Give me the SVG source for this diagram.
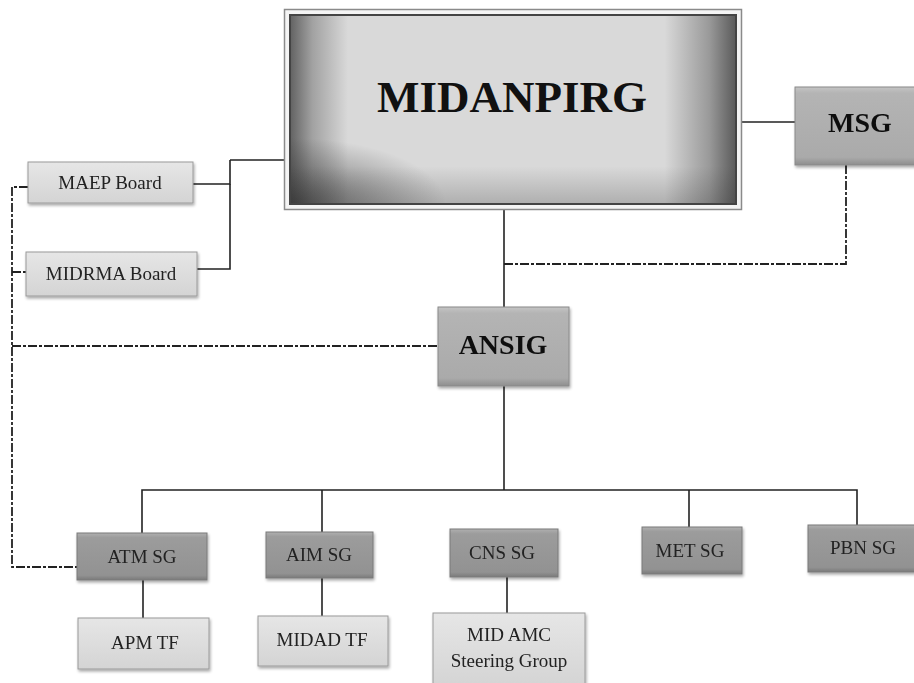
<svg xmlns="http://www.w3.org/2000/svg" width="914" height="683" viewBox="0 0 914 683">
<defs>
<linearGradient id="gSide" x1="0" y1="0" x2="1" y2="0">
<stop offset="0" stop-color="#3a3a3a" stop-opacity="0.75"/>
<stop offset="0.05" stop-color="#3a3a3a" stop-opacity="0.35"/>
<stop offset="0.13" stop-color="#3a3a3a" stop-opacity="0"/>
<stop offset="0.84" stop-color="#3a3a3a" stop-opacity="0"/>
<stop offset="0.94" stop-color="#3a3a3a" stop-opacity="0.4"/>
<stop offset="1" stop-color="#3a3a3a" stop-opacity="0.8"/>
</linearGradient>
<radialGradient id="gCorner" cx="0" cy="1" r="0.35">
<stop offset="0" stop-color="#303030" stop-opacity="0.7"/>
<stop offset="1" stop-color="#303030" stop-opacity="0"/>
</radialGradient>
<linearGradient id="gBot" x1="0" y1="0" x2="0" y2="1">
<stop offset="0.8" stop-color="#303030" stop-opacity="0"/>
<stop offset="1" stop-color="#303030" stop-opacity="0.25"/>
</linearGradient>
<linearGradient id="gMid" x1="0" y1="0" x2="0" y2="1">
<stop offset="0" stop-color="#c4c4c4"/>
<stop offset="0.08" stop-color="#b4b4b4"/>
<stop offset="0.9" stop-color="#aaaaaa"/>
<stop offset="1" stop-color="#8e8e8e"/>
</linearGradient>
<linearGradient id="gDark" x1="0" y1="0" x2="0" y2="1">
<stop offset="0" stop-color="#b0b0b0"/>
<stop offset="0.1" stop-color="#9c9c9c"/>
<stop offset="0.9" stop-color="#929292"/>
<stop offset="1" stop-color="#7a7a7a"/>
</linearGradient>
<linearGradient id="gLight" x1="0" y1="0" x2="0" y2="1">
<stop offset="0" stop-color="#e6e6e6"/>
<stop offset="1" stop-color="#d4d4d4"/>
</linearGradient>
<filter id="sh" x="-10%" y="-10%" width="130%" height="140%">
<feGaussianBlur in="SourceAlpha" stdDeviation="1.5"/>
<feOffset dx="1" dy="2" result="b"/>
<feComponentTransfer><feFuncA type="linear" slope="0.35"/></feComponentTransfer>
<feMerge><feMergeNode/><feMergeNode in="SourceGraphic"/></feMerge>
</filter>
</defs>
<style>
.ln{fill:none;stroke:#222;stroke-width:1.6}
.ds{fill:none;stroke:#222;stroke-width:1.8;stroke-dasharray:9 2 3 2}
.mid{fill:url(#gMid);stroke:#8a8a8a;stroke-width:1}
.dark{fill:url(#gDark);stroke:#7a7a7a;stroke-width:1}
.light{fill:url(#gLight);stroke:#9a9a9a;stroke-width:1}
.tb{font-family:"Liberation Serif","Times New Roman",serif;font-weight:bold;fill:#111;text-anchor:middle}
.t{font-family:"Liberation Serif","Times New Roman",serif;fill:#222;text-anchor:middle;font-size:19px}
</style>
<rect width="914" height="683" fill="#ffffff"/>
<g id="connectors">
<path class="ln" d="M742 122 H795"/>
<path class="ln" d="M504 210 V308"/>
<path class="ln" d="M230 160 H284"/>
<path class="ln" d="M193 184 H230 V160"/>
<path class="ln" d="M197 269 H230 V184"/>
<path class="ds" d="M846 165 V264 H504"/>
<path class="ds" d="M28 187 H12 V567 H77"/>
<path class="ds" d="M12 272 H26"/>
<path class="ds" d="M12 346 H438"/>
<path class="ln" d="M504 386 V490"/>
<path class="ln" d="M142 533 V490 H857 V525"/>
<path class="ln" d="M322 490 V532"/>
<path class="ln" d="M689 490 V527"/>
<path class="ln" d="M143 580 V618"/>
<path class="ln" d="M322 578 V616"/>
<path class="ln" d="M507 577 V613"/>
</g>
<g id="midanpirg">
<rect x="284.5" y="9.5" width="457" height="200" fill="#f4f4f4" stroke="#8a8a8a" stroke-width="1.5"/>
<rect x="290" y="15" width="446" height="189" fill="#d9d9d9"/>
<rect x="290" y="15" width="446" height="189" fill="url(#gSide)"/>
<rect x="290" y="15" width="446" height="189" fill="url(#gCorner)"/>
<rect x="290" y="15" width="446" height="189" fill="url(#gBot)"/>
<rect x="290" y="15" width="446" height="189" fill="none" stroke="#444" stroke-width="2"/>
<text class="tb" x="512" y="112" font-size="45">MIDANPIRG</text>
</g>
<g id="msg" filter="url(#sh)">
<rect class="mid" x="795" y="87" width="125" height="78"/>
<text class="tb" x="860" y="132" font-size="28">MSG</text>
</g>
<g id="maep" filter="url(#sh)">
<rect class="light" x="28" y="162" width="165" height="41"/>
<text class="t" x="110" y="189">MAEP Board</text>
</g>
<g id="midrma" filter="url(#sh)">
<rect class="light" x="26" y="252" width="171" height="44"/>
<text class="t" x="111" y="280">MIDRMA Board</text>
</g>
<g id="ansig" filter="url(#sh)">
<rect class="mid" x="438" y="307" width="131" height="79"/>
<text class="tb" x="503" y="354" font-size="28">ANSIG</text>
</g>
<g id="atmsg" filter="url(#sh)">
<rect class="dark" x="77" y="533" width="130" height="47"/>
<text class="t" x="142" y="563">ATM SG</text>
</g>
<g id="aimsg" filter="url(#sh)">
<rect class="dark" x="266" y="532" width="107" height="46"/>
<text class="t" x="319" y="561">AIM SG</text>
</g>
<g id="cnssg" filter="url(#sh)">
<rect class="dark" x="450" y="529" width="108" height="48"/>
<text class="t" x="502" y="559">CNS SG</text>
</g>
<g id="metsg" filter="url(#sh)">
<rect class="dark" x="642" y="527" width="100" height="47"/>
<text class="t" x="690" y="557">MET SG</text>
</g>
<g id="pbnsg" filter="url(#sh)">
<rect class="dark" x="808" y="525" width="112" height="47"/>
<text class="t" x="863" y="554">PBN SG</text>
</g>
<g id="apmtf" filter="url(#sh)">
<rect class="light" x="78" y="618" width="131" height="51"/>
<text class="t" x="145" y="649">APM TF</text>
</g>
<g id="midadtf" filter="url(#sh)">
<rect class="light" x="258" y="616" width="130" height="50"/>
<text class="t" x="322" y="646">MIDAD TF</text>
</g>
<g id="midamc" filter="url(#sh)">
<rect class="light" x="433" y="613" width="152" height="74"/>
<text class="t" x="509" y="641">MID AMC</text>
<text class="t" x="509" y="667">Steering Group</text>
</g>
</svg>
